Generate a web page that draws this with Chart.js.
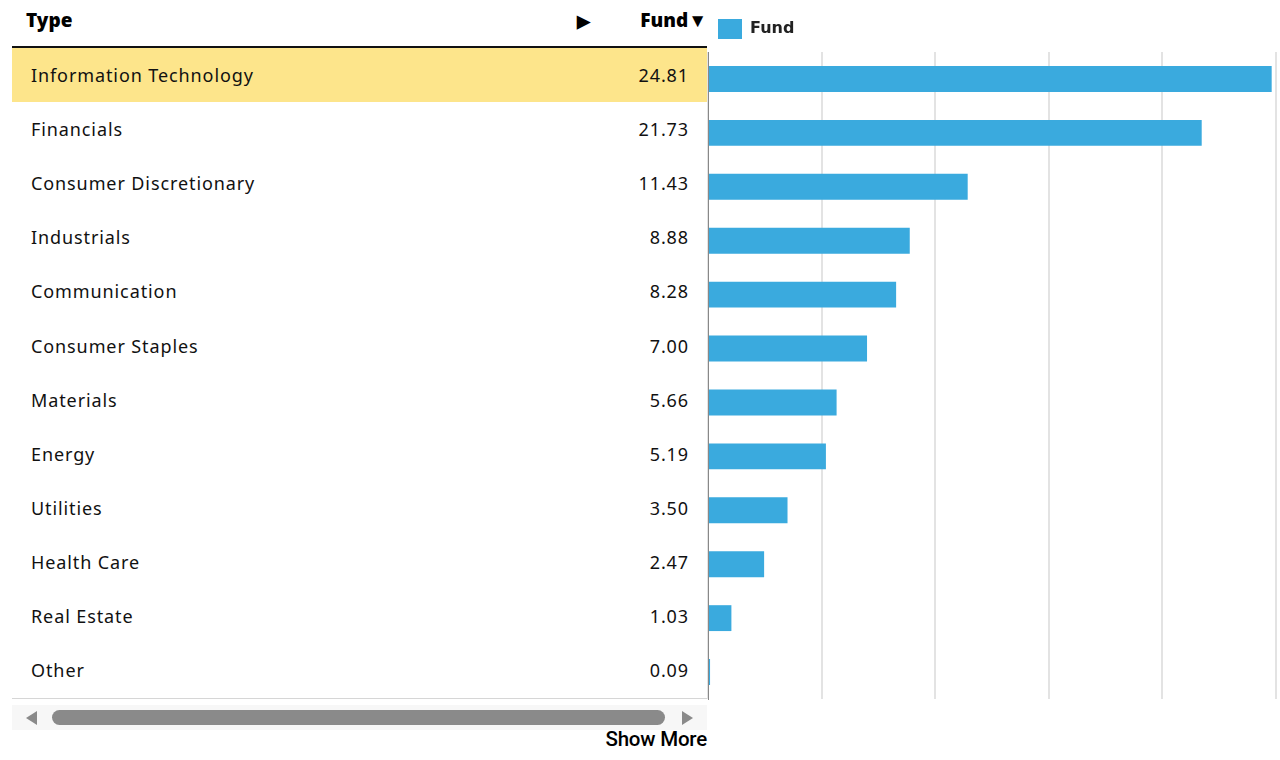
<!DOCTYPE html>
<html><head><meta charset="utf-8">
<script src="https://cdn.jsdelivr.net/npm/chart.js@4/dist/chart.umd.min.js"></script>
<style>
html,body{margin:0;padding:0;background:#fff;width:1280px;height:760px;overflow:hidden;font-family:"Noto Sans",sans-serif;color:#111;}
#tbl{position:absolute;left:12px;top:0;width:695px;}
.hdr{position:absolute;top:0;height:46px;left:0;width:695px;border-bottom:2px solid #111;}
.hdr span{position:absolute;top:7px;font-weight:900;font-size:19px;color:#000;}
.row{position:absolute;left:0;width:695px;height:54.1px;}
.row .lbl{position:absolute;left:19px;top:0;line-height:54px;font-size:18px;letter-spacing:0.9px;}
.row .val{position:absolute;right:18px;top:0;line-height:54px;font-size:18px;letter-spacing:0.9px;}
.row.hl{background:#fde58b;}
#bline{position:absolute;left:12px;top:698px;width:695px;height:1px;background:#d6d6d6;}
#scroll{position:absolute;left:12px;top:705px;width:695px;height:25px;background:#f7f7f7;}
#thumb{position:absolute;left:40px;top:5px;width:613px;height:15px;border-radius:8px;background:#8a8a8a;}
.arr{position:absolute;top:6px;width:0;height:0;border-top:7px solid transparent;border-bottom:7px solid transparent;}
#al{left:14px;border-right:11px solid #8a8a8a;}
#ar{left:670px;border-left:11px solid #8a8a8a;}
#more{position:absolute;right:573px;top:727px;font-family:Roboto,sans-serif;font-weight:500;font-size:20.5px;color:#000;letter-spacing:-0.2px;}
#cw{position:absolute;left:700px;top:0;width:580px;height:705px;}
</style></head>
<body>
<div id="tbl"></div>
<div id="bline"></div>
<div id="scroll"><div class="arr" id="al"></div><div id="thumb"></div><div class="arr" id="ar"></div></div>
<div id="more">Show More</div>
<div id="cw"><canvas id="c"></canvas></div>
<script>
const categories = ["Information Technology","Financials","Consumer Discretionary","Industrials","Communication","Consumer Staples","Materials","Energy","Utilities","Health Care","Real Estate","Other"];
const fundValues = [24.81,21.73,11.43,8.88,8.28,7.00,5.66,5.19,3.50,2.47,1.03,0.09];
const seriesName = "Fund";
const headerLabels = ["Type","\u25B6","Fund\u25BC"];

// table
const tbl = document.getElementById('tbl');
const hdr = document.createElement('div'); hdr.className='hdr';
hdr.innerHTML = '<span style="left:14px">'+headerLabels[0]+'</span><span style="left:565px;font-size:17px;top:9px">'+headerLabels[1]+'</span><span style="right:0px">'+headerLabels[2]+'</span>';
tbl.appendChild(hdr);
categories.forEach((c,i)=>{
  const r=document.createElement('div');
  r.className='row'+(i===0?' hl':'');
  r.style.top=(48+i*54.1)+'px';
  r.innerHTML='<span class="lbl">'+c+'</span><span class="val">'+fundValues[i].toFixed(2)+'</span>';
  tbl.appendChild(r);
});

const legendMargin = {id:'legendMargin',beforeInit(chart){const f=chart.legend.fit;chart.legend.fit=function(){f.bind(chart.legend)();this.height+=3;};}};

new Chart(document.getElementById('c'),{
  type:'bar',
  data:{labels:categories,datasets:[{label:seriesName,data:fundValues,backgroundColor:'#3aaade',borderColor:'#3aaade',borderWidth:0,barPercentage:0.96,categoryPercentage:0.5}]},
  options:{
    indexAxis:'y',responsive:true,maintainAspectRatio:false,animation:false,
    layout:{padding:{left:8,right:4,top:9,bottom:6}},
    plugins:{
      legend:{display:true,align:'start',labels:{boxWidth:24,boxHeight:20,padding:10,color:'#222',font:{family:'"DejaVu Sans"',size:16,weight:'bold'}}},
      tooltip:{enabled:false}
    },
    scales:{
      x:{min:0,max:25,ticks:{display:false,stepSize:5},grid:{color:'#e3e3e3',lineWidth:2,drawTicks:false},border:{display:false}},
      y:{ticks:{display:false},grid:{display:false,drawTicks:false},border:{display:true,color:'#888',width:1}}
    }
  },
  plugins:[legendMargin]
});
</script>
</body></html>
